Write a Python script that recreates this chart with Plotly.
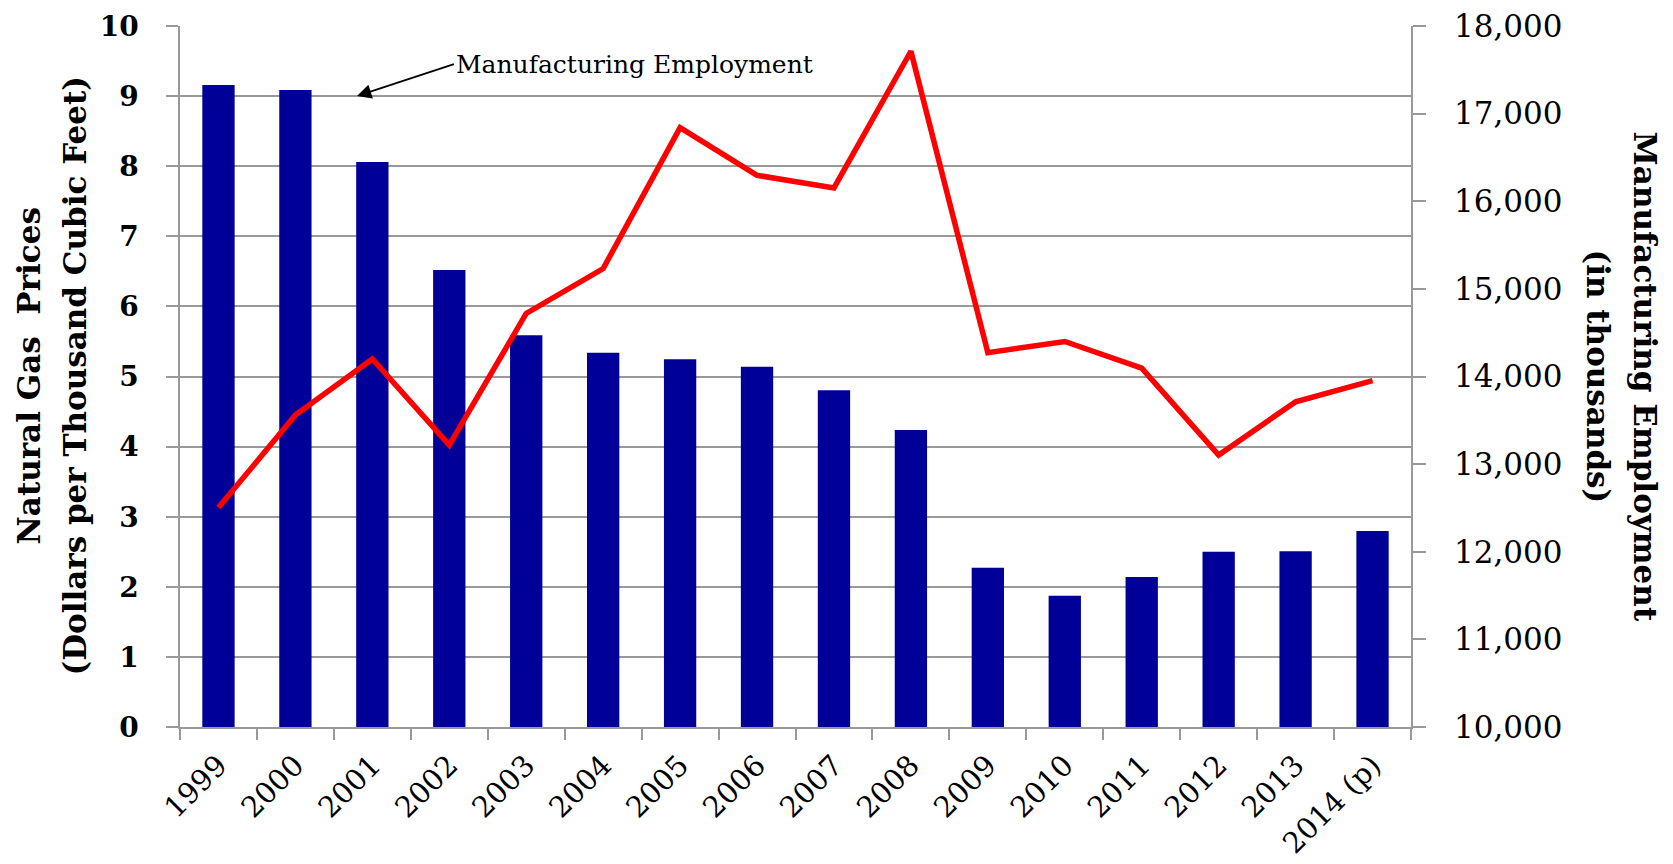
import plotly.graph_objects as go

years = ["1999", "2000", "2001", "2002", "2003", "2004", "2005", "2006",
         "2007", "2008", "2009", "2010", "2011", "2012", "2013", "2014 (p)"]
employment = [17327, 17269, 16448, 15215, 14470, 14272, 14196, 14112,
              13842, 13389, 11818, 11498, 11712, 12001, 12005, 12237]
gas_prices = [3.13, 4.45, 5.25, 4.02, 5.90, 6.54, 8.55, 7.87,
              7.69, 9.64, 5.34, 5.50, 5.12, 3.88, 4.64, 4.94]
left_ticks = list(range(0, 11))
right_ticks = list(range(10000, 18001, 1000))

FONT = "DejaVu Serif"
GRID = "#999999"

W, H = 1673, 864
plot_left, plot_right, plot_top, plot_bottom = 180, 1411, 26, 727

fig = go.Figure()
fig.add_trace(go.Bar(x=years, y=employment, yaxis="y", marker=dict(color="#000099", line=dict(width=0)),
                     name="Manufacturing Employment"))
fig.add_trace(go.Scatter(x=years, y=gas_prices, yaxis="y2", mode="lines",
                         line=dict(color="#ff0000", width=5.5), name="Natural Gas Prices"))

fig.update_layout(
    width=W, height=H,
    margin=dict(l=plot_left, r=W - plot_right, t=plot_top, b=H - plot_bottom),
    paper_bgcolor="white", plot_bgcolor="white",
    showlegend=False, bargap=0.58,
    font=dict(family=FONT, color="black"),
    xaxis=dict(type="category", range=[-0.5, 15.5], showline=True, linecolor=GRID, linewidth=1.5,
               ticks="outside", tickson="boundaries", ticklen=11, tickcolor=GRID, tickwidth=1.5,
               tickangle=-45, tickfont=dict(size=29, family=FONT), showgrid=False,
               ticklabelstandoff=8, automargin=False, ticklabeloverflow="allow"),
    yaxis=dict(side="right", range=[10000, 18000], tickvals=right_ticks, tickformat=",d",
               showgrid=False, showline=True, linecolor=GRID, linewidth=1.5,
               ticks="outside", ticklen=13, tickcolor=GRID, tickwidth=1.5,
               tickfont=dict(size=31, family=FONT), ticklabelstandoff=22, zeroline=False,
               automargin=False, ticklabeloverflow="allow"),
    yaxis2=dict(side="left", overlaying="y", range=[0, 10], tickvals=left_ticks,
                showgrid=True, gridcolor=GRID, gridwidth=1.5, showline=True, linecolor=GRID,
                linewidth=1.5, ticks="outside", ticklen=12, tickcolor=GRID, tickwidth=1.5,
                tickfont=dict(size=28, family=FONT, weight="bold"), ticklabelstandoff=22,
                zeroline=False, automargin=False, ticklabeloverflow="allow"),
)

fig.add_annotation(x=1.8, y=9, xref="x", yref="y2", ax=97, ay=-32, axref="pixel", ayref="pixel",
                   text="Manufacturing Employment", showarrow=True, arrowhead=2, arrowsize=1.6,
                   arrowwidth=1.8, arrowcolor="black", xanchor="left", yanchor="middle",
                   font=dict(size=25, family=FONT, color="black"))

title_font = dict(size=31, family=FONT, weight="bold")
fig.add_annotation(text="Natural Gas  Prices", x=0, y=0.5, xref="paper", yref="paper",
                   xshift=28 - plot_left, textangle=-90, showarrow=False, font=title_font,
                   xanchor="center", yanchor="middle")
fig.add_annotation(text="(Dollars per Thousand Cubic Feet)", x=0, y=0.5, xref="paper", yref="paper",
                   xshift=74 - plot_left, textangle=-90, showarrow=False, font=title_font,
                   xanchor="center", yanchor="middle")
fig.add_annotation(text="Manufacturing Employment", x=1, y=0.5, xref="paper", yref="paper",
                   xshift=1645 - plot_right, textangle=90, showarrow=False, font=title_font,
                   xanchor="center", yanchor="middle")
fig.add_annotation(text="(in thousands)", x=1, y=0.5, xref="paper", yref="paper",
                   xshift=1598 - plot_right, textangle=90, showarrow=False, font=title_font,
                   xanchor="center", yanchor="middle")

# remove the default page margin so the figure fills the window exactly
fig.write_html("out.html", config={"displayModeBar": False},
               post_script="document.body.style.margin='0';")
